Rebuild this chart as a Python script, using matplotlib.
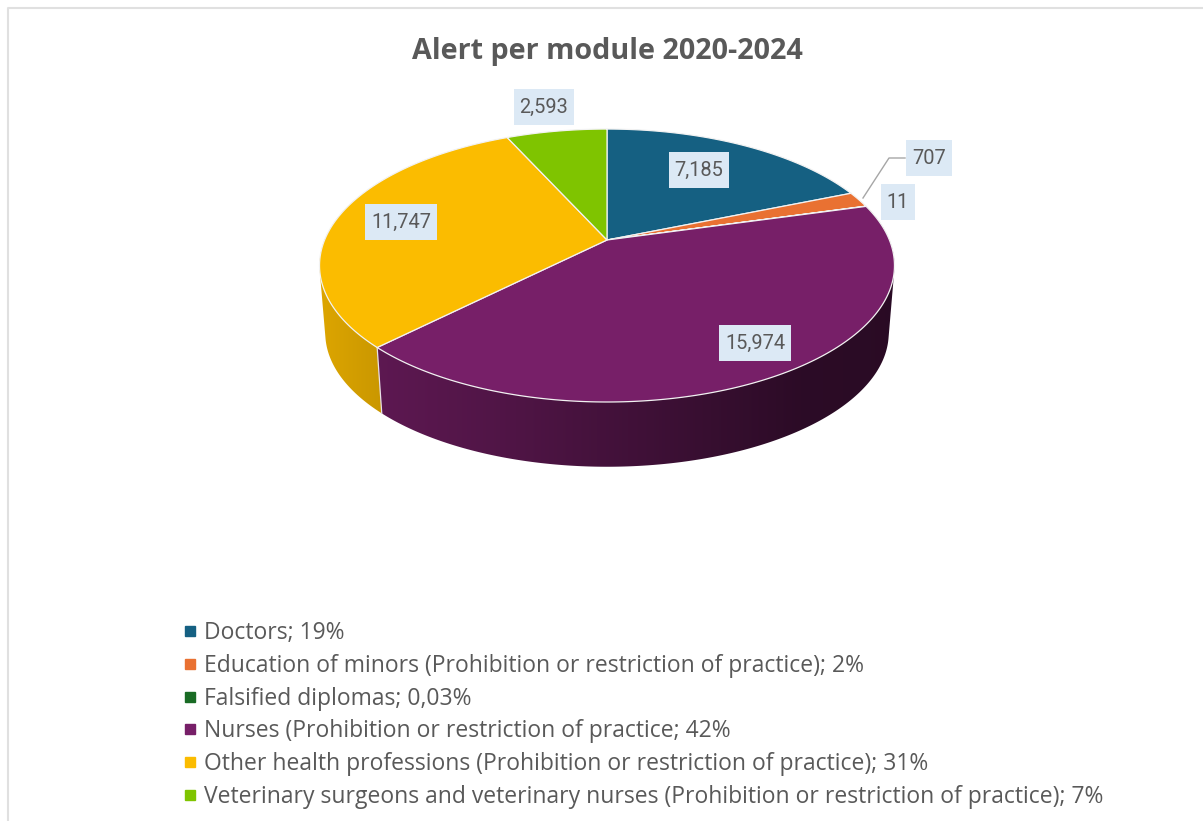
import numpy as np
import matplotlib
matplotlib.use('Agg')
import matplotlib.pyplot as plt
from matplotlib.colors import to_rgb
from matplotlib.lines import Line2D
from matplotlib.patches import Polygon, Rectangle

# data
modules = ['Doctors; 19%',
           'Education of minors (Prohibition or restriction of practice); 2%',
           'Falsified diplomas; 0,03%',
           'Nurses (Prohibition or restriction of practice; 42%',
           'Other health professions (Prohibition or restriction of practice); 31%',
           'Veterinary surgeons and veterinary nurses (Prohibition or restriction of practice); 7%']
alerts = [7185, 707, 11, 15974, 11747, 2593]
value_labels = ['7,185', '707', '11', '15,974', '11,747', '2,593']
colors = ['#156082', '#e97132', '#196b24', '#771f68', '#fbbc00', '#7fc400']

# label centres in pixels
label_xy = [(699, 170), (929, 158), (898, 202), (755, 343), (401, 222), (544, 107)]

# perspective of the disc, fitted on the picture
CX, CY = 607, 240
A, B, K = 282.4, 131.7, 0.187
DEPTH, SHRINK = 68, 0.98

# side shading: pixel x -> brightness factor, only front slices show a side
# yellow goes first so that the purple side ends cleanly on the seam
side_shade = {4: ([320, 385], [0.88, 0.80]),
              3: ([380, 520, 800, 900], [0.78, 0.66, 0.37, 0.35])}


def top(theta):
    x, y = np.sin(theta), np.cos(theta)
    w = 1 + K * y
    return CX + A * x / w, CY - B * y / w


def bottom(theta):
    x, y = np.sin(theta), np.cos(theta)
    w = 1 + K * y
    return CX + SHRINK * A * x / w, CY + DEPTH - SHRINK * B * y / w


def hull(pts):
    # monotone chain, the side of the disc is the hull of its two rims
    pts = sorted(map(tuple, pts))

    def half(seq):
        out = []
        for p in seq:
            while len(out) > 1 and ((out[-1][0] - out[-2][0]) * (p[1] - out[-2][1])
                                    - (out[-1][1] - out[-2][1]) * (p[0] - out[-2][0])) <= 0:
                out.pop()
            out.append(p)
        return out[:-1]

    return half(pts) + half(pts[::-1])


fig = plt.figure(figsize=(12.03, 8.21), dpi=100)
ax = fig.add_axes([0, 0, 1, 1])

# frame of the chart
ax.plot([8, 8, 1203], [821, 8, 8], color='#e0e0e0', lw=1.5)

edges = np.cumsum([0] + alerts) / sum(alerts) * 2 * np.pi

# sides first, the top face then covers the back part
for n, (i, (px, fac)) in enumerate(side_shade.items()):
    t = np.linspace(edges[i], edges[i + 1], 300)
    pts = np.r_[np.column_stack(top(t)), np.column_stack(bottom(t))]
    poly = Polygon(hull(pts), closed=True, fc='none', ec='none')
    ax.add_patch(poly)
    grad = np.linspace(310, 900, 590)
    img = np.outer(np.interp(grad, px, fac), to_rgb(colors[i]))[None, :, :]
    im = ax.imshow(img, extent=(310, 900, 480, 200), aspect='auto', zorder=1 + n / 10)
    im.set_clip_path(poly)

# white seam between the two visible sides
seam = edges[4]
ax.plot([top(seam)[0], bottom(seam)[0]], [top(seam)[1], bottom(seam)[1]],
        color='#e8e0e8', lw=0.9, zorder=1.5)

for i, col in enumerate(colors):
    t = np.linspace(edges[i], edges[i + 1], 200)
    xs, ys = top(t)
    pts = np.column_stack([np.r_[CX, xs], np.r_[CY, ys]])
    ax.add_patch(Polygon(pts, closed=True, fc=col, ec='#f2f2f2', lw=0.9,
                         joinstyle='round', zorder=2))

ax.set_xlim(0, 1203)
ax.set_ylim(821, 0)
ax.axis('off')

# leader line of the 707 label
ax.plot([863, 889, 905], [198, 158, 158], color='#a6a6a6', lw=1, zorder=3)

fig.canvas.draw()
rend = fig.canvas.get_renderer()
for txt, (x, y) in zip(value_labels, label_xy):
    t = ax.text(x, y, txt, ha='center', va='center', fontsize=14.4, color='#595959',
                family='Roboto', zorder=5)
    w = t.get_window_extent(rend).width + 12
    ax.add_patch(Rectangle((x - w / 2, y - 18), w, 36, fc='#dce9f5', ec='none', zorder=4))

ax.text(607, 51, 'Alert per module 2020-2024', ha='center', va='center',
        fontsize=20.7, fontweight='bold', color='#595959', family='Open Sans')

handles = [Line2D([], [], ls='none', marker='s', ms=6.5, color=c) for c in colors]
ax.legend(handles, modules, loc='upper left', bbox_to_anchor=(183 / 1203, 1 - 621 / 821),
          frameon=False, labelcolor='#595959', handlelength=0.6,
          handletextpad=0.31, labelspacing=0.385, borderpad=0, borderaxespad=0,
          prop={'family': 'Open Sans', 'size': 16.45})

fig.savefig('out.png', dpi=100)
